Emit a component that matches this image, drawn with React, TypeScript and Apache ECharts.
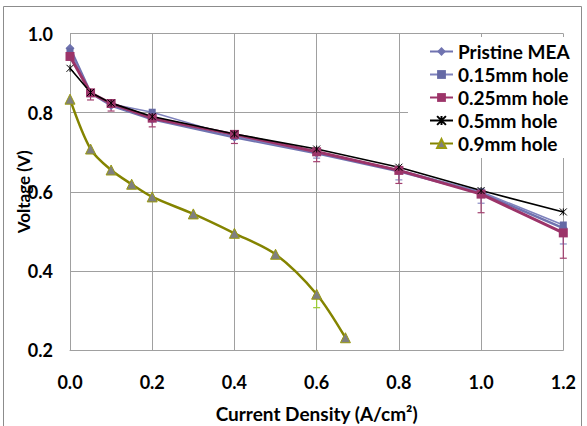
import React, { useEffect, useRef } from "react";
import * as echarts from "echarts";

const currentX = [0, 0.05, 0.1, 0.2, 0.4, 0.6, 0.8, 1.0, 1.2];
const pristine = [0.963, 0.85, 0.818, 0.783, 0.738, 0.697, 0.652, 0.597, 0.508];
const hole015 = [0.955, 0.848, 0.822, 0.801, 0.74, 0.7, 0.655, 0.6, 0.516];
const hole025 = [0.942, 0.85, 0.823, 0.786, 0.745, 0.701, 0.654, 0.594, 0.496];
const hole05 = [0.912, 0.851, 0.824, 0.79, 0.746, 0.708, 0.662, 0.603, 0.549];
const current09 = [0, 0.05, 0.1, 0.15, 0.2, 0.3, 0.4, 0.5, 0.6, 0.67];
const hole09 = [0.834, 0.708, 0.655, 0.619, 0.587, 0.544, 0.495, 0.442, 0.341, 0.231];

// error bars: [x, value, lower end]
const err025 = [
  [0.05, 0.85, 0.832], [0.1, 0.823, 0.804], [0.2, 0.786, 0.764], [0.4, 0.745, 0.722],
  [0.6, 0.701, 0.676], [0.8, 0.654, 0.621], [1.0, 0.594, 0.547], [1.2, 0.496, 0.432],
];
const err015 = [
  [0.6, 0.7, 0.685], [0.8, 0.655, 0.63], [1.0, 0.6, 0.571], [1.2, 0.516, 0.468],
];
const err09 = [[0.6, 0.341, 0.307]];

const yTicks = { min: 0.2, max: 1.0, interval: 0.2 };
const xTicks = { min: 0, max: 1.2, interval: 0.2 };
const seriesNames = ["Pristine MEA", "0.15mm hole", "0.25mm hole", "0.5mm hole", "0.9mm hole"];

const FONT = "Lato";
const STAR = "path://M0,0L10,10M10,0L0,10M5,0L5,10";

function pairs(xs: number[], ys: number[]) {
  return xs.map((x, i) => [x, ys[i]]);
}

function errSeries(data: number[][], color: string) {
  return {
    type: "custom",
    z: 1,
    silent: true,
    data,
    renderItem: (_p: any, api: any) => {
      const p = api.coord([api.value(0), api.value(1)]);
      const l = api.coord([api.value(0), api.value(2)]);
      return {
        type: "group",
        children: [
          { type: "line", shape: { x1: p[0], y1: p[1], x2: l[0], y2: l[1] }, style: { stroke: color, lineWidth: 1.2 } },
          { type: "line", shape: { x1: l[0] - 3.5, y1: l[1], x2: l[0] + 3.5, y2: l[1] }, style: { stroke: color, lineWidth: 1.2 } },
        ],
      };
    },
  };
}

export default function App() {
  const ref = useRef<HTMLDivElement>(null);
  useEffect(() => {
    if (!ref.current) return;
    const chart = echarts.init(ref.current, null, { renderer: "svg" });
    const gridColor = "#a0a0a0";
    chart.setOption({
      animation: false,
      backgroundColor: "#fff",
      textStyle: { fontFamily: FONT },
      graphic: [
        {
          type: "rect",
          shape: { x: 3.5, y: 6.5, width: 578, height: 440 },
          style: { fill: "none", stroke: "#8c8c8c", lineWidth: 1 },
          silent: true,
        },
      ],
      grid: { left: 70, top: 33.5, right: 23.7, bottom: 76, containLabel: false, outerBoundsMode: "none" },
      legend: {
        data: seriesNames,
        orient: "vertical",
        left: 408,
        top: 37,
        padding: [5, 4, 5, 21],
        backgroundColor: "#fff",
        itemWidth: 23,
        itemHeight: 11,
        itemGap: 4,
        textStyle: { fontFamily: FONT, fontSize: 19, fontWeight: "bold", color: "#000", lineHeight: 19 },
      },
      xAxis: {
        type: "value",
        ...xTicks,
        name: "Current Density (A/cm²)",
        nameLocation: "middle",
        nameGap: 54,
        nameMoveOverlap: false,
        nameTextStyle: { fontFamily: FONT, fontSize: 19, fontWeight: "bold", color: "#000", lineHeight: 19 },
        axisLine: { show: true, lineStyle: { color: gridColor } },
        axisTick: { show: false },
        axisLabel: {
          margin: 23,
          fontFamily: FONT,
          fontSize: 18,
          fontWeight: "bold",
          color: "#000",
          formatter: (v: number) => v.toFixed(1),
        },
        splitLine: { show: true, lineStyle: { color: gridColor, width: 1 } },
      },
      yAxis: {
        type: "value",
        ...yTicks,
        name: "Voltage (V)",
        nameLocation: "middle",
        nameRotate: 90,
        nameGap: 38,
        nameMoveOverlap: false,
        nameTextStyle: { fontFamily: FONT, fontSize: 17, fontWeight: "bold", color: "#000" },
        axisLine: { show: true, lineStyle: { color: gridColor } },
        axisTick: { show: false },
        axisLabel: {
          margin: 17,
          fontFamily: FONT,
          fontSize: 18,
          fontWeight: "bold",
          color: "#000",
          formatter: (v: number) => v.toFixed(1),
        },
        splitLine: { show: true, lineStyle: { color: gridColor, width: 1 } },
      },
      series: [
        errSeries(err015, "#8a8dc4"),
        errSeries(err025, "#a2406f"),
        errSeries(err09, "#9acd32"),
        {
          name: seriesNames[0],
          type: "line",
          data: pairs(currentX, pristine),
          symbol: "diamond",
          symbolSize: 9,
          lineStyle: { color: "#7073b0", width: 2.5 },
          itemStyle: { color: "#7073b0" },
        },
        {
          name: seriesNames[1],
          type: "line",
          data: pairs(currentX, hole015),
          symbol: "rect",
          symbolSize: 7,
          lineStyle: { color: "#7f83bd", width: 1.5 },
          itemStyle: { color: "#6569a5" },
        },
        {
          name: seriesNames[2],
          type: "line",
          data: pairs(currentX, hole025),
          symbol: "rect",
          symbolSize: 9,
          lineStyle: { color: "#9c3469", width: 3 },
          itemStyle: { color: "#9c3469" },
        },
        {
          name: seriesNames[3],
          type: "line",
          data: pairs(currentX, hole05),
          symbol: STAR,
          symbolSize: 7,
          lineStyle: { color: "#000", width: 1.6 },
          itemStyle: { color: "#000", borderColor: "#000", borderWidth: 1 },
        },
        {
          name: seriesNames[4],
          type: "line",
          data: pairs(current09, hole09),
          smooth: 0.3,
          symbol: "triangle",
          symbolSize: 10,
          lineStyle: { color: "#848400", width: 2.5 },
          itemStyle: { color: "#7f7f7f", borderColor: "#9a9a10", borderWidth: 1 },
        },
      ],
    });
    return () => chart.dispose();
  }, []);
  return <div ref={ref} style={{ width: 587, height: 426, position: "absolute", left: 0, top: 0 }} />;
}
